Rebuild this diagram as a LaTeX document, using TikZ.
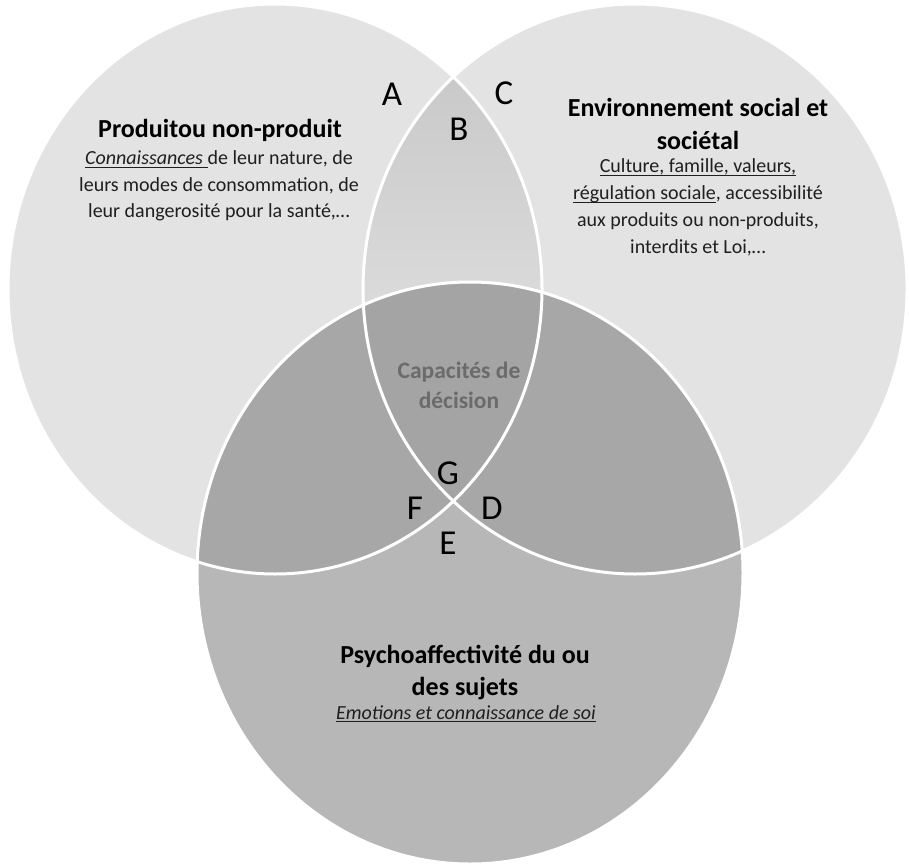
\documentclass[tikz,border=0pt]{standalone}
\usepackage{fontspec}
\setmainfont{Carlito}
\usetikzlibrary{positioning}

\definecolor{paleG}{HTML}{E3E3E3}
\definecolor{lensTop}{HTML}{C9C9C9}
\definecolor{lensBot}{HTML}{DADADA}
\definecolor{midG}{HTML}{B7B7B7}
\definecolor{darkG}{HTML}{A7A7A7}
\definecolor{coreG}{HTML}{A4A4A4}
\definecolor{capG}{HTML}{6B6B6B}

% underline at a fixed depth
\newcommand{\undr}[1]{\setbox0\hbox{#1}\rlap{\rule[-3pt]{\wd0}{0.9pt}}\box0}

\begin{document}
\begin{tikzpicture}[x=1pt, y=-1pt,
  rP/.style={x radius=267pt, y radius=285pt},
  rE/.style={x radius=272pt, y radius=285pt},
  rS/.style={x radius=273pt, y radius=291pt},
  rim/.style={draw=white, line width=3pt},
  ttl/.style={font=\fontsize{26}{32.5}\selectfont\bfseries, align=center, inner sep=0pt, anchor=base},
  txt/.style={font=\fontsize{20}{26.5}\selectfont, align=center, inner sep=0pt, anchor=base, text=black!88},
  ltr/.style={font=\fontsize{35}{35}\selectfont, inner sep=0pt},
]
\useasboundingbox (0,0) rectangle (909,866);
\fill[white] (0,0) rectangle (909,866);

\coordinate (cP) at (275,289);
\coordinate (cE) at (635,289);
\coordinate (cS) at (470,573);

% the two upper sets
\fill[paleG] (cP) ellipse[rP];
\fill[paleG] (cE) ellipse[rE];
\begin{scope}
  \clip (cP) ellipse[rP];
  \clip (cE) ellipse[rE];
  \shade[top color=lensTop, bottom color=lensBot] (350,70) rectangle (560,300);
  \fill[lensBot] (350,300) rectangle (560,520);
\end{scope}

% the lower set and its overlaps
\fill[midG] (cS) ellipse[rS];
\begin{scope}
  \clip (cS) ellipse[rS];
  \fill[darkG] (cP) ellipse[rP];
  \fill[darkG] (cE) ellipse[rE];
  \clip (cP) ellipse[rP];
  \fill[coreG] (cE) ellipse[rE];
\end{scope}

\draw[rim] (cP) ellipse[rP];
\draw[rim] (cE) ellipse[rE];
\draw[rim] (cS) ellipse[rS];

% texts (base = baseline of the last line)
\node[ttl] (prodT) at (220,138) {Produitou non-produit};
\node[txt] (prodB) at (219,218) {\undr{\textit{Connaissances }}de leur nature, de\\
  leurs modes de consommation, de\\leur dangerosité pour la santé,…};

\node[ttl, font=\fontsize{26}{33}\selectfont\bfseries] (envT) at (698,150) {Environnement social et\\sociétal};
\node[txt, font=\fontsize{20}{27}\selectfont] (envB) at (698,254) {\undr{Culture, famille, valeurs,}\\
  \undr{régulation sociale}, accessibilité\\aux produits ou non-produits,\\interdits et Loi,…};

\node[ttl, font=\fontsize{26}{32}\selectfont\bfseries] (psyT) at (465,695) {Psychoaffectivité du ou\\des sujets};
\node[txt] (psyB) at (466,719) {\undr{\textit{Emotions et connaissance de soi}}};

\node[ttl, text=capG, font=\fontsize{23.5}{30}\selectfont\bfseries] (cap) at (459,408) {Capacités de\\décision};

% zone letters
\node[ltr] (zA) at (392,94) {A};
\node[ltr] (zB) at (459,129) {B};
\node[ltr] (zC) at (504,93) {C};
\node[ltr] (zG) at (448,473) {G};
\node[ltr] (zF) at (415,508) {F};
\node[ltr] (zD) at (492,508) {D};
\node[ltr] (zE) at (448,543) {E};
\end{tikzpicture}
\end{document}
